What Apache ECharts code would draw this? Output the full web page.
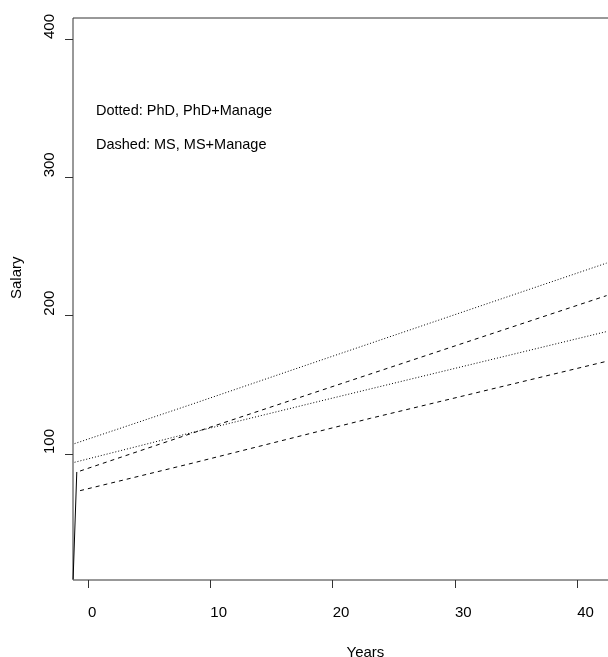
<!DOCTYPE html>
<html lang="en">
<head>
    <meta charset="UTF-8">
    <script src="https://cdn.jsdelivr.net/npm/echarts@6/dist/echarts.min.js"></script>
    <title>Salary</title>
    <style>
        html, body { margin: 0; padding: 0; background: #fff; }
        #main { width: 608px; height: 657px; }
    </style>
</head>
<body>
    <div id="main"></div>
    <script type="text/javascript">
        // 数据
        var tickYears = [0, 10, 20, 30, 40];
        var tickSalary = [100, 200, 300, 400];

        var phdManageYears = [-1.1, 8.5, 19.1, 42.4];
        var phdManageSalary = [107.5, 136, 168, 238];

        var phdYears = [-1.1, 8.5, 19.1, 42.4];
        var phdSalary = [94, 115.5, 138.5, 188.5];

        var msManageYears = [-0.65, 8.5, 21.2, 42.4];
        var msManageSalary = [87.7, 115, 152.3, 214.5];

        var msYears = [-0.65, 8.5, 23.1, 42.4];
        var msSalary = [73.5, 93.3, 125.8, 167];

        var solidYears = [-1.22, -0.92];
        var solidSalary = [9.5, 87];

        function pairs(xs, ys) {
            return xs.map(function (x, i) { return [x, ys[i]]; });
        }

        var font = 'Liberation Sans, Arial, sans-serif';
        var myChart = echarts.init(document.getElementById('main'));

        function lineSeries(name, xs, ys, dash) {
            return {
                name: name,
                type: 'line',
                data: pairs(xs, ys),
                showSymbol: false,
                symbol: 'none',
                animation: false,
                lineStyle: { color: '#000', width: 1, type: dash }
            };
        }

        var option = {
            animation: false,
            grid: {
                left: 73, top: 18, right: -2, bottom: 77,
                outerBoundsMode: 'none',
                containLabel: false,
                show: true,
                borderColor: '#333',
                borderWidth: 1
            },
            xAxis: {
                type: 'value',
                min: -1.23,
                max: 42.68,
                name: 'Years',
                nameLocation: 'middle',
                nameGap: 65,
                nameTextStyle: { color: '#000', fontSize: 15, fontFamily: font, align: 'left', padding: [0, 0, 0, 5] },
                axisLine: { show: false, onZero: false },
                splitLine: { show: false },
                axisTick: { show: true, customValues: tickYears, length: 8, lineStyle: { color: '#333' } },
                axisLabel: { customValues: tickYears, color: '#000', fontSize: 15, fontFamily: font, align: 'left', margin: 25 }
            },
            yAxis: {
                type: 'value',
                min: 8.9,
                max: 415.2,
                name: 'Salary',
                nameLocation: 'middle',
                nameGap: 49,
                nameRotate: 90,
                nameTextStyle: { color: '#000', fontSize: 15, fontFamily: font, align: 'left' },
                axisLine: { show: false, onZero: false },
                splitLine: { show: false },
                axisTick: { show: true, customValues: tickSalary, length: 8, lineStyle: { color: '#333' } },
                axisLabel: {
                    customValues: tickSalary, color: '#000', fontSize: 15, fontFamily: font,
                    rotate: 90, align: 'left', verticalAlign: 'bottom', margin: 16
                }
            },
            graphic: [
                { type: 'text', left: 96, top: 103, style: { text: 'Dotted: PhD, PhD+Manage', fill: '#000', font: '14.5px ' + font } },
                { type: 'text', left: 96, top: 137, style: { text: 'Dashed: MS, MS+Manage', fill: '#000', font: '14.5px ' + font } }
            ],
            series: [
                lineSeries('PhD+Manage', phdManageYears, phdManageSalary, [1, 2]),
                lineSeries('PhD', phdYears, phdSalary, [1, 2]),
                lineSeries('MS+Manage', msManageYears, msManageSalary, [4, 4]),
                lineSeries('MS', msYears, msSalary, [4, 4]),
                lineSeries('solid', solidYears, solidSalary, 'solid')
            ]
        };
        myChart.setOption(option);
    </script>
</body>
</html>
